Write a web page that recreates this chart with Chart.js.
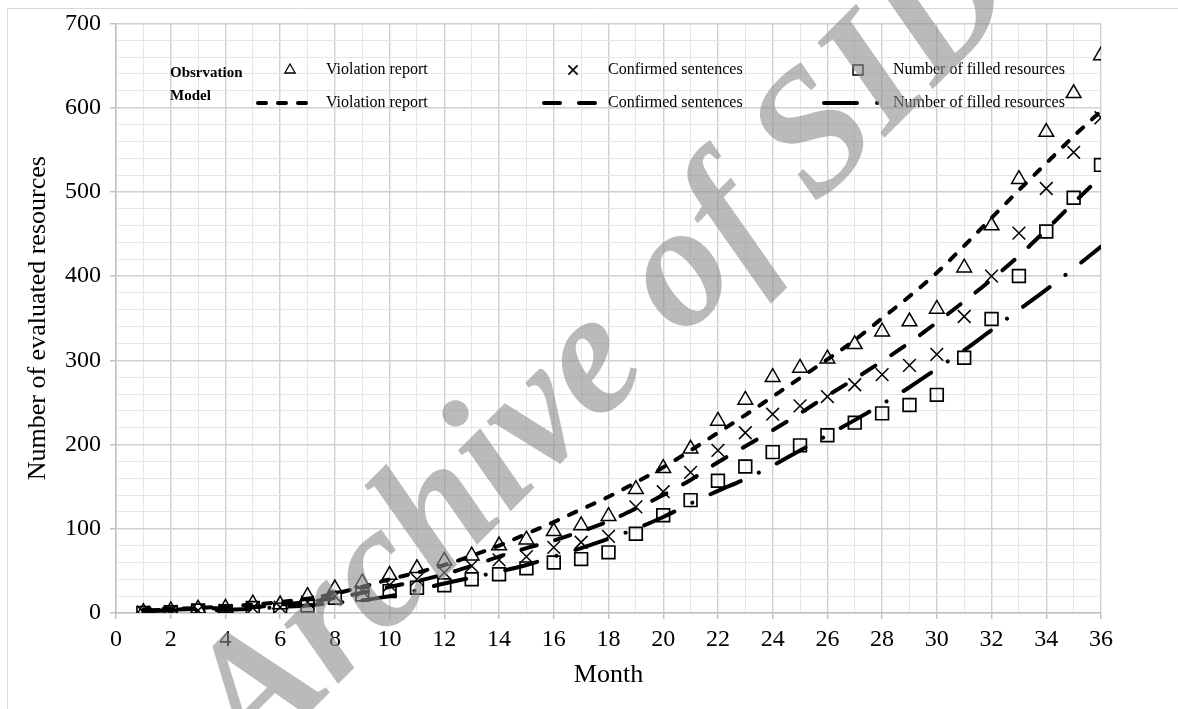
<!DOCTYPE html>
<html><head><meta charset="utf-8">
<script src="https://cdn.jsdelivr.net/npm/chart.js@4.4.1/dist/chart.umd.min.js"></script>
<style>html,body{margin:0;padding:0;background:#fff;}#wrap{width:1178px;height:709px;position:relative;}</style>
</head><body><div id="wrap"><canvas id="c" width="1178" height="709"></canvas></div>
<script>
// ---- data ----
const months = [1,2,3,4,5,6,7,8,9,10,11,12,13,14,15,16,17,18,19,20,21,22,23,24,25,26,27,28,29,30,31,32,33,34,35,36];
const seriesNames = ['Violation report','Confirmed sentences','Number of filled resources'];
const violationObs = [1,3,5,6,11,10,20,29,36,45,53,62,68,80,87,97,104,115,147,172,195,228,253,280,291,302,319,334,346,361,410,460,515,571,617,662];
const confirmedObs = [1,2,3,3,6,7,13,20,26,33,40,48,56,63,67,78,84,91,126,144,167,193,214,236,246,257,271,283,294,307,352,400,451,504,547,588];
const filledObs = [0,1,3,2,6,4,9,18,22,26,30,33,40,46,53,60,64,72,94,116,134,157,174,191,199,211,226,237,247,259,303,349,400,453,493,532];
const violationModel = [4,5,6,8,10,13,17,23,31,40,48,57,68,80,94,108,123,138,155,173,193,214,235,257,279,301,324,350,376,404,436,469,502,534,566,596];
const confirmedModel = [3,4,5,6,7,10,13,18,24,31,38,46,56,67,77,86,97,109,124,140,158,179,198,217,237,258,278,299,321,345,370,396,424,455,487,518];
const filledModel = [2,3,3,4,5,7,9,12,15,20,27,35,42,49,57,67,77,88,100,114,130,145,159,175,193,211,229,248,268,290,312,336,360,384,409,435];
const xTitle = 'Month';
const yTitle = 'Number of evaluated resources';
const groupLabels = ['Obsrvation','Model'];
const watermark = 'Archive of SID';

const SERIF = '"Liberation Serif", "Times New Roman", serif';
const pts = ys => months.map((m,i)=>({x:m,y:ys[i]}));

const markerDs = (label, ys, style, r, bw) => ({
  label, data: pts(ys), showLine:false, order:0,
  pointStyle: style, pointRadius:r, pointHoverRadius:r,
  pointBorderColor:'#000', pointBackgroundColor:'rgba(0,0,0,0)', pointBorderWidth:bw,
  borderColor:'#000', backgroundColor:'rgba(0,0,0,0)'
});
const lineDs = (label, ys, dash) => ({
  label, data: pts(ys), showLine:true, order:1,
  pointRadius:0, borderColor:'#000', borderWidth:4, borderDash:dash,
  borderCapStyle:'round', cubicInterpolationMode:'monotone', fill:false
});

const dashes = [[8,12],[16,19],[33,20,0.1,20]];

const legendPlugin = {
  id:'customLegend',
  afterDatasetsDraw(chart){
    const ctx = chart.ctx;
    const H = Chart.helpers;
    ctx.save();
    ctx.textBaseline = 'middle';
    ctx.textAlign = 'left';
    ctx.fillStyle = '#000';
    ctx.font = 'bold 15px ' + SERIF;
    ctx.fillText(groupLabels[0], 170, 73);
    ctx.fillText(groupLabels[1], 170, 96);
    const y1 = 70, y2 = 103;
    const markers = [['triangle',290,6,1.3],['crossRot',573,6.5,1.6],['rect',858,7,1.5]];
    const textX = [326, 608, 893];
    const lines = [[258,318],[544,600],[824,882]];
    for (let i=0;i<3;i++){
      const m = markers[i];
      ctx.setLineDash([]);
      ctx.lineCap = 'butt';
      ctx.strokeStyle = '#000';
      ctx.lineWidth = m[3];
      ctx.fillStyle = 'rgba(0,0,0,0)';
      H.drawPoint(ctx, {pointStyle:m[0], radius:m[2], borderWidth:m[3], rotation:0}, m[1], y1);
      ctx.fillStyle = '#000';
      ctx.font = '16px ' + SERIF;
      ctx.fillText(seriesNames[i], textX[i], y1);
      ctx.beginPath();
      ctx.lineWidth = 4; ctx.lineCap = 'round';
      ctx.setLineDash(dashes[i]);
      ctx.moveTo(lines[i][0], y2); ctx.lineTo(lines[i][1], y2);
      ctx.stroke();
      ctx.setLineDash([]);
      ctx.fillText(seriesNames[i], textX[i], y2);
    }
    ctx.restore();
  }
};

const framePlugin = {
  id:'frame',
  beforeDraw(chart){
    const ctx = chart.ctx;
    ctx.save();
    ctx.fillStyle = '#fff'; ctx.fillRect(0,0,chart.width,chart.height);
    ctx.strokeStyle = '#d9d9d9'; ctx.lineWidth = 1;
    ctx.beginPath();
    ctx.moveTo(7.5, 709); ctx.lineTo(7.5, 8.5); ctx.lineTo(1178, 8.5);
    ctx.stroke();
    ctx.restore();
  },
  afterDraw(chart){
    const ctx = chart.ctx;
    ctx.save();
    ctx.translate(606, 352);
    ctx.rotate(-45*Math.PI/180);
    ctx.font = 'italic bold 175px ' + SERIF;
    ctx.textAlign = 'center'; ctx.textBaseline = 'middle';
    ctx.fillStyle = 'rgba(140,140,140,0.6)';
    ctx.fillText(watermark, 0, 0);
    ctx.restore();
  }
};

const isMajorX = v => v % 2 === 0;
const isMajorY = v => v % 100 === 0;

new Chart(document.getElementById('c'), {
  type:'line',
  data:{ datasets:[
    markerDs(seriesNames[0], violationObs, 'triangle', 8.5, 1.5),
    markerDs(seriesNames[1], confirmedObs, 'crossRot', 9, 1.5),
    markerDs(seriesNames[2], filledObs, 'rect', 9, 1.7),
    lineDs(seriesNames[0], violationModel, dashes[0]),
    lineDs(seriesNames[1], confirmedModel, dashes[1]),
    lineDs(seriesNames[2], filledModel, dashes[2])
  ]},
  options:{
    responsive:false, animation:false, devicePixelRatio:1,
    layout:{padding:{left:0,right:77,top:22,bottom:0}},
    plugins:{legend:{display:false}, tooltip:{enabled:false}},
    scales:{
      x:{
        type:'linear', min:0, max:36,
        afterFit: s => { s.height = 96; },
        ticks:{stepSize:1, autoSkip:false, maxRotation:0, minRotation:0,
          callback: v => isMajorX(v) ? String(v) : '',
          font:{family:SERIF, size:24}, color:'#000', padding:6},
        grid:{
          color: c => (c.tick && isMajorX(c.tick.value)) ? '#d0d0d0' : '#e6e6e6',
          lineWidth: c => (c.tick && isMajorX(c.tick.value)) ? 1.4 : 1,
          tickLength:6,
          tickColor: c => (c.tick && isMajorX(c.tick.value)) ? '#bfbfbf' : 'rgba(0,0,0,0)'
        },
        border:{color:'#bfbfbf', width:1.5},
        title:{display:true, text:xTitle, color:'#000', font:{family:SERIF, size:26}, padding:{top:0,bottom:18}}
      },
      y:{
        type:'linear', min:0, max:700,
        afterFit: s => { s.width = 116; },
        ticks:{stepSize:20, autoSkip:false,
          callback: v => isMajorY(v) ? String(v) : '',
          font:{family:SERIF, size:24}, color:'#000', padding:9},
        grid:{
          color: c => (c.tick && isMajorY(c.tick.value)) ? '#d0d0d0' : '#e6e6e6',
          lineWidth: c => (c.tick && isMajorY(c.tick.value)) ? 1.4 : 1,
          tickLength:6,
          tickColor: c => (c.tick && isMajorY(c.tick.value)) ? '#bfbfbf' : 'rgba(0,0,0,0)'
        },
        border:{color:'#bfbfbf', width:1.5},
        title:{display:true, text:yTitle, color:'#000', font:{family:SERIF, size:26}, padding:{top:23,bottom:0}}
      }
    }
  },
  plugins:[framePlugin, legendPlugin]
});
</script></body></html>
